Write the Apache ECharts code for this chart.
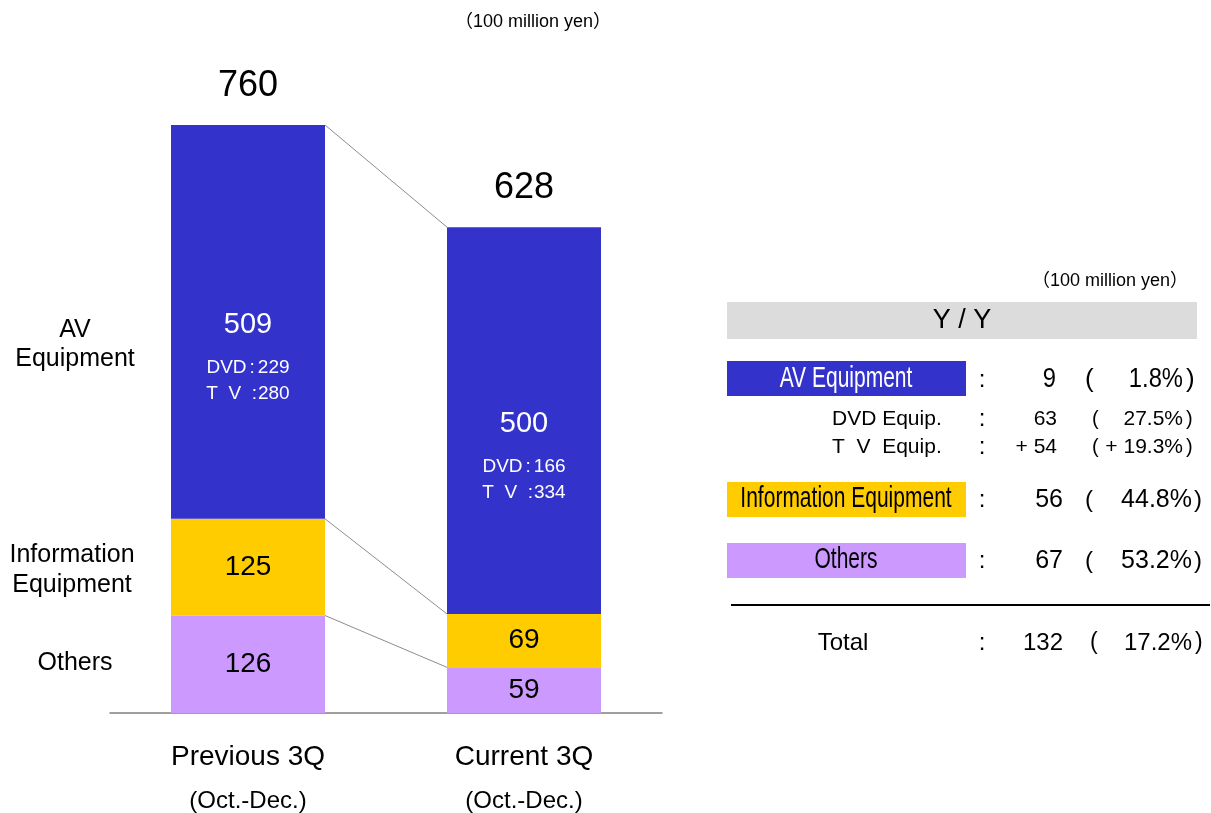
<!DOCTYPE html>
<html><head><meta charset="utf-8">
<script src="https://cdn.jsdelivr.net/npm/echarts@6/dist/echarts.min.js"></script>
<style>html,body{margin:0;padding:0;background:#fff}#c{width:1211px;height:813px}</style>
</head><body><div id="c"></div>
<script>
// ---- data ----
const categories = ['Previous 3Q', 'Current 3Q'];
const periods = ['(Oct.-Dec.)', '(Oct.-Dec.)'];
const segmentNames = ['Others', 'Information Equipment', 'AV Equipment'];
const others = [126, 59];
const info = [125, 69];
const av = [509, 500];
const dvd = [229, 166];
const tv = [280, 334];
const totals = [760, 628];
const leftLabels = ['AV\nEquipment', 'Information\nEquipment', 'Others'];
const unitLabel = '（100 million yen）';
const yyTitle = 'Y / Y';
const yyLabels = ['AV Equipment', 'DVD Equip.', 'T  V  Equip.', 'Information Equipment', 'Others', 'Total'];
const yyDiffs = ['9', '63', '+ 54', '56', '67', '132'];
const yyPcts = ['1.8%', '27.5%', '+ 19.3%', '44.8%', '53.2%', '17.2%'];

// ---- style ----
const FONT = "'Liberation Sans', Arial, 'Noto Sans CJK JP', sans-serif";
const C_AV = '#3333CC', C_INFO = '#FFCC00', C_OTH = '#CC99FF';
const BAR_W = 154;

const chart = echarts.init(document.getElementById('c'), null, {renderer: 'canvas'});

const connectorData = [
  [0, totals[0], totals[1]],
  [0, others[0] + info[0], others[1] + info[1]],
  [0, others[0], others[1]]
];

function txt(x, y, text, size, opts) {
  opts = opts || {};
  return {
    type: 'text', x: x, y: y, scaleX: opts.scaleX || 1, z: 10,
    style: {
      text: text, x: 0, y: 0, fontSize: size, fontFamily: FONT,
      fill: opts.fill || '#000', align: opts.align || 'center',
      verticalAlign: 'middle', lineHeight: opts.lineHeight || size * 1.2
    }
  };
}

const graphics = [];
// top unit label
graphics.push(txt(533, 22, unitLabel, 18));
// left labels
graphics.push(txt(75, 345, leftLabels[0], 25, {lineHeight: 29}));
graphics.push(txt(72, 570, leftLabels[1], 25, {lineHeight: 30}));
graphics.push(txt(75, 663, leftLabels[2], 25));
// table
graphics.push(txt(1110, 281, unitLabel, 18));
graphics.push({type: 'rect', shape: {x: 727, y: 302, width: 470, height: 37}, style: {fill: '#DCDCDC'}});
graphics.push(txt(962, 321, yyTitle, 27));
graphics.push({type: 'rect', shape: {x: 727, y: 361, width: 239, height: 35}, style: {fill: C_AV}});
graphics.push({type: 'rect', shape: {x: 727, y: 482, width: 239, height: 35}, style: {fill: C_INFO}});
graphics.push({type: 'rect', shape: {x: 727, y: 543, width: 239, height: 35}, style: {fill: C_OTH}});
graphics.push({type: 'line', shape: {x1: 731, y1: 605, x2: 1210, y2: 605}, style: {stroke: '#000', lineWidth: 2}});

const rowY = [380, 419, 447, 500, 561, 643];
const rowCfg = [
  {kind: 'box', fill: '#fff', size: 27, sx: 0.88, dR: 1056, pL: 1085, pR: 1183, cL: 1186},
  {kind: 'sub', size: 21, sx: 1, dR: 1057, pL: 1092, pR: 1183, cL: 1186},
  {kind: 'sub', size: 21, sx: 1, dR: 1057, pL: 1092, pR: 1183, cL: 1186},
  {kind: 'box', fill: '#000', size: 25, sx: 1, dR: 1063, pL: 1085, pR: 1192, cL: 1194},
  {kind: 'box', fill: '#000', size: 25, sx: 1, dR: 1063, pL: 1085, pR: 1192, cL: 1194},
  {kind: 'total', size: 24, sx: 1, dR: 1063, pL: 1090, pR: 1192, cL: 1195}
];
rowCfg.forEach(function (c, i) {
  const y = rowY[i];
  if (c.kind === 'box') {
    graphics.push(txt(846, y - 1, yyLabels[i], 30, {fill: c.fill, scaleX: 0.7}));
  } else if (c.kind === 'sub') {
    graphics.push(txt(832, y, yyLabels[i], c.size, {align: 'left'}));
  } else {
    graphics.push(txt(843, y, yyLabels[i], c.size));
  }
  graphics.push(txt(982, y, ':', 24));
  graphics.push(txt(c.dR, y, yyDiffs[i], c.size, {align: 'right', scaleX: c.sx}));
  graphics.push(txt(c.pL, y, '(', c.size - 1, {align: 'left'}));
  graphics.push(txt(c.pR, y, yyPcts[i], c.size, {align: 'right', scaleX: c.sx}));
  graphics.push(txt(c.cL, y, ')', c.size - 1, {align: 'left'}));
});

const option = {
  animation: false,
  textStyle: {fontFamily: FONT},
  grid: {left: 110, right: 549, top: 125, bottom: 99, containLabel: false},
  xAxis: {
    type: 'category', data: categories,
    axisLine: {lineStyle: {color: '#808080', width: 1.5}},
    axisTick: {show: false},
    axisLabel: {
      margin: 22, color: '#000', fontFamily: FONT,
      formatter: function (v, i) { return '{a|' + v + '}\n{b|' + periods[i] + '}'; },
      rich: {
        a: {fontSize: 28, lineHeight: 44, fontFamily: FONT, color: '#000'},
        b: {fontSize: 24, lineHeight: 44, fontFamily: FONT, color: '#000'}
      }
    }
  },
  yAxis: {type: 'value', min: 0, max: 760, show: false, splitLine: {show: false}},
  series: [
    {
      name: segmentNames[0], type: 'bar', stack: 's', barWidth: BAR_W, barGap: '-100%',
      data: others, itemStyle: {color: C_OTH},
      label: {show: true, position: 'inside', fontSize: 28, color: '#000', fontFamily: FONT}
    },
    {
      name: segmentNames[1], type: 'bar', stack: 's', barWidth: BAR_W, barGap: '-100%',
      data: info, itemStyle: {color: C_INFO},
      label: {show: true, position: 'inside', fontSize: 28, color: '#000', fontFamily: FONT}
    },
    {
      name: segmentNames[2], type: 'bar', stack: 's', barWidth: BAR_W, barGap: '-100%',
      data: av, itemStyle: {color: C_AV},
      label: {
        show: true, position: 'inside', offset: [0, 29],
        formatter: function (p) {
          const i = p.dataIndex;
          return '{big|' + p.value + '}\n{sm|DVD}{c1|:}{sm|' + dvd[i] + '}\n{sm|T  V  }{c2|:}{sm|' + tv[i] + '}';
        },
        rich: {
          big: {fontSize: 29, lineHeight: 60, color: '#fff', fontFamily: FONT},
          sm: {fontSize: 19, lineHeight: 26, color: '#fff', fontFamily: FONT},
          c1: {fontSize: 19, lineHeight: 26, color: '#fff', fontFamily: FONT, padding: [0, 3, 0, 3]},
          c2: {fontSize: 19, lineHeight: 26, color: '#fff', fontFamily: FONT, padding: [0, 1, 0, 0]}
        }
      }
    },
    {
      name: 'Total', type: 'bar', barWidth: BAR_W, barGap: '-100%', z: 1,
      data: totals, itemStyle: {color: 'rgba(0,0,0,0)'}, silent: true,
      label: {show: true, position: 'top', distance: 21, fontSize: 36, color: '#000', fontFamily: FONT}
    },
    {
      name: 'connectors', type: 'custom', silent: true, z: 5,
      encode: {x: 0, y: [1, 2]},
      data: connectorData,
      renderItem: function (params, api) {
        const a = api.coord([0, api.value(1)]);
        const b = api.coord([1, api.value(2)]);
        return {
          type: 'line',
          shape: {x1: a[0] + BAR_W / 2, y1: a[1], x2: b[0] - BAR_W / 2, y2: b[1]},
          style: {stroke: '#8c8c8c', lineWidth: 1}
        };
      }
    }
  ],
  graphic: graphics
};
chart.setOption(option);
</script>
</body></html>
